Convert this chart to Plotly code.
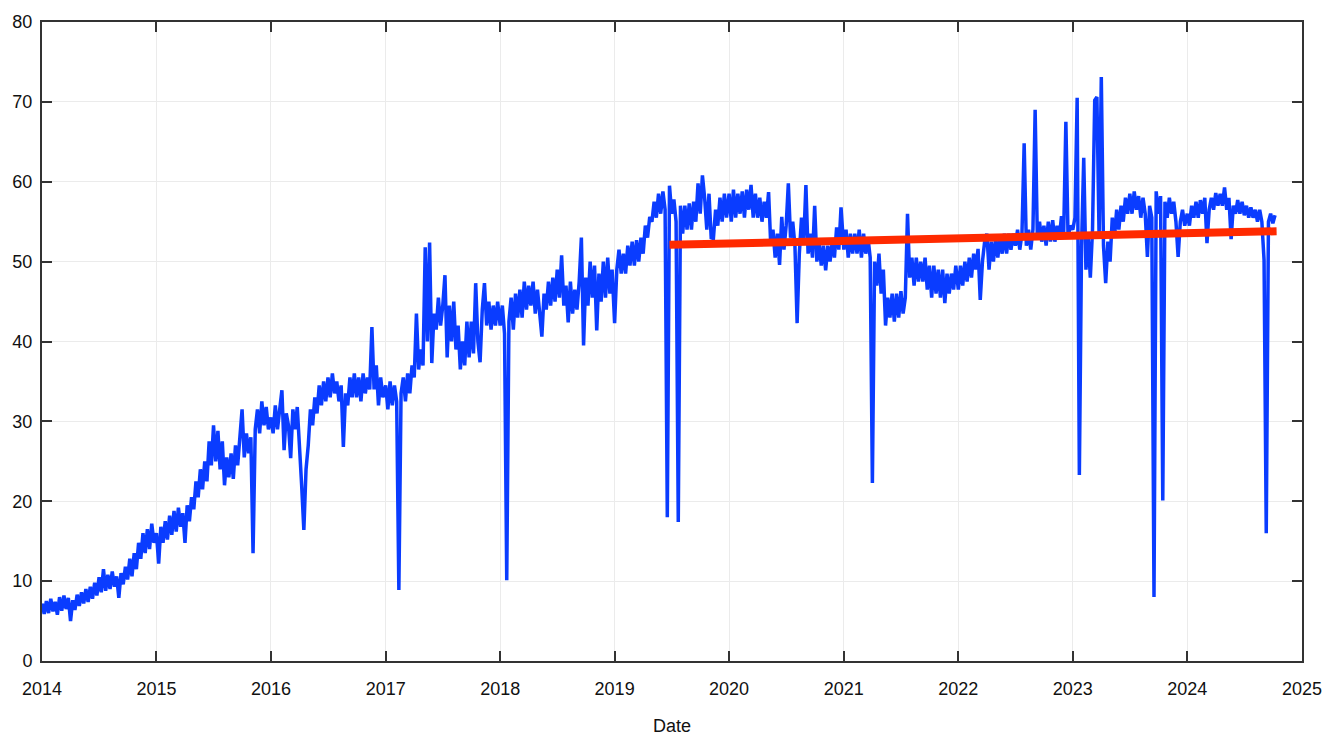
import datetime as dt
import plotly.graph_objects as go

# ---- Weekly readings of the daily series (value at Jan 1 + 7*k days of each year) ----
vals_2014 = [7.2,5.9,7.5,6.0,7.8,6.2,7.4,5.8,8.0, 6.3,8.2,6.5,7.9, 5.0,7.6,6.4,8.3, 6.9,8.6,7.2,9.0,7.4,
             9.3,7.8,9.8,8.2, 10.5,8.6,11.5,8.8,10.8, 9.0,11.2,9.3,10.6, 7.9,11.0,9.6,11.8, 10.2,12.8,10.6,13.5,
             11.5,14.8,12.8,16.0,13.5, 16.5,14.0,17.2,14.8]
vals_2015 = [16.0,12.2,16.8,14.8,17.5, 15.2,18.2,15.8,18.8, 16.2,19.2,16.8,18.5, 14.8,19.5,17.5,20.5,
             19.0,22.5,20.5,24.0,21.5, 25.0,22.5,27.5,24.5, 29.5,25.0,28.8,24.0,27.5, 22.0,25.5,23.0,26.0,
             22.8,27.0,24.5,28.0, 31.5,25.5,28.5,26.0, 28.0,13.5,29.0,31.5,28.5, 32.5,29.5,31.8,29.0]
vals_2016 = [30.5,28.5,32.0,29.0,31.5, 33.9,26.4,31.0,29.5, 25.4,31.5,29.0,31.8, 27.5,22.0,16.4,24.0,
             27.0,31.5,29.5,33.0,31.0, 34.5,32.0,35.0,32.5, 35.5,33.0,36.0,33.5,35.0, 32.5,34.5,26.8,33.5,
             32.0,35.5,33.0,36.0, 33.0,35.5,32.5,36.0, 33.5,35.5,34.0,41.8,34.0, 37.0,32.0,35.5,33.0]
vals_2017 = [34.5,31.5,35.0,32.0,34.5, 32.5,8.9,33.5,35.5, 32.5,36.0,33.5,37.0, 35.5,43.5,36.5,39.0,
             37.0,51.8,40.0,52.4,37.3, 43.5,41.5,45.5,42.0, 44.5,48.3,38.0,44.5,40.0, 45.0,39.0,42.0,36.5,
             40.0,37.0,42.5,38.0, 42.5,38.5,47.3,40.0, 37.4,44.0,47.3,42.0,45.0, 41.5,44.5,42.0,45.0]
vals_2018 = [42.0,44.5,41.0,10.1,42.5, 45.5,41.5,46.0,43.0, 46.5,43.0,47.5,44.0, 47.0,44.5,47.5,43.5,
             46.5,43.0,40.6,46.0,44.0, 47.5,44.5,48.0,45.0, 49.0,45.5,50.8,44.5,47.0, 42.4,47.5,43.5,46.5,
             44.0,47.5,53.0,39.5, 48.0,44.5,50.0,45.5, 49.5,41.4,48.5,45.0,50.0, 45.5,50.5,46.0,49.0]
vals_2019 = [42.3,49.0,51.5,48.5,51.0, 48.5,52.0,49.5,52.5, 49.5,52.7,50.0,53.0, 51.0,54.5,53.0,55.6,
             55.0,57.5,55.5,58.5,56.0, 58.8,56.5,18.0,59.5, 56.0,57.8,55.0,17.4,57.0, 53.5,57.0,54.0,57.3,
             54.0,57.5,55.0,59.8, 56.0,60.8,58.0,54.0, 58.5,53.0,52.9,56.5,54.5, 58.0,55.0,58.5,55.5]
vals_2020 = [58.5,55.0,59.0,55.5,58.5, 56.0,58.8,55.5,59.0, 56.5,59.6,55.5,58.5, 55.5,58.0,55.0,57.5,
             55.5,58.7,52.0,54.0,50.5, 53.5,49.6,55.6,51.5, 54.5,59.8,53.0,55.0,52.0, 42.3,51.0,55.5,52.5,
             59.6,51.0,53.5,50.5, 57.0,50.0,52.5,49.5, 52.0,48.9,52.0,50.0,52.5, 50.5,54.3,51.5,56.8]
vals_2021 = [51.5,54.0,50.5,53.5,51.0, 53.5,51.0,54.0,50.5, 53.5,51.0,53.0,50.5, 22.3,50.0,47.0,51.0,
             46.0,49.0,42.0,45.5,43.0, 46.0,42.5,46.0,43.0, 46.3,43.5,45.5,56.0,48.0, 50.5,47.0,50.5,47.5,
             50.0,47.5,50.5,46.5, 49.5,45.5,49.5,46.0, 49.0,45.5,49.0,44.8,48.5, 46.0,48.5,46.5,49.5]
vals_2022 = [46.5,49.5,47.0,50.0,47.5, 50.5,48.0,51.0,49.0, 51.6,45.2,50.0,52.5, 53.5,49.0,52.5,50.0,
             53.0,50.5,53.0,51.0,53.5, 51.0,53.5,51.5,53.5, 52.0,54.0,51.5,53.5,64.8, 52.0,54.0,51.5,54.0,
             69.0,53.0,55.0,52.5, 54.5,52.0,55.0,52.5, 55.2,52.5,54.5,53.0,55.7, 53.5,67.5,53.0,54.5]
vals_2023 = [54.0,55.5,70.5,23.3,52.0, 63.0,49.0,53.0,48.0, 54.0,70.2,70.6,53.0, 73.1,52.0,47.3,52.5,
             50.0,55.5,53.0,56.5,54.0, 57.0,55.0,58.0,56.0, 58.5,56.0,58.8,56.5,58.2, 55.5,58.0,56.0,50.6,
             57.0,55.5,8.0,58.8, 56.0,58.2,20.1,57.5, 55.5,58.0,56.0,57.5,55.0, 50.6,55.0,56.5,54.5]
vals_2024 = [56.0,54.5,57.0,55.5,57.5, 55.5,57.7,56.0,58.0, 52.3,56.5,58.0,56.5, 58.6,57.0,58.5,57.0,
             59.3,56.5,58.0,52.8,57.0, 56.0,57.7,56.0,57.5, 55.8,57.0,55.5,56.8,55.5, 56.5,55.0,56.5,55.0,
             50.2,16.0,55.0,56.0, 54.8,55.8]

yearly_values = {2014: vals_2014, 2015: vals_2015, 2016: vals_2016, 2017: vals_2017, 2018: vals_2018,
                 2019: vals_2019, 2020: vals_2020, 2021: vals_2021, 2022: vals_2022, 2023: vals_2023,
                 2024: vals_2024}

# Trend line (red)
trend_dates = ["2019-06-25", "2024-10-12"]
trend_values = [52.1, 53.8]

years = list(range(2014, 2026))
year_labels = [str(y) for y in years]

# weekly sample dates within each year
dates, values = [], []
for yr, vals in yearly_values.items():
    start = dt.date(yr, 1, 1)
    for k, v in enumerate(vals):
        dates.append(start + dt.timedelta(days=7 * k))
        values.append(v)

FONT = "Liberation Sans, Arial, Helvetica, sans-serif"
AXIS_COL = "#333333"
GRID_COL = "#ebebeb"
TXT_COL = "#111111"

fig = go.Figure()
fig.add_trace(go.Scatter(x=dates, y=values, mode="lines",
                         line=dict(color="#0a3cff", width=3.5)))
fig.add_trace(go.Scatter(x=trend_dates, y=trend_values, mode="lines",
                         line=dict(color="#ff2a00", width=8)))

axis_common = dict(
    showgrid=True, gridcolor=GRID_COL, gridwidth=1,
    ticks="inside", ticklen=10, tickwidth=2, tickcolor=AXIS_COL,
    showline=True, linecolor=AXIS_COL, linewidth=2, mirror="allticks",
    zeroline=False, automargin=False,
    tickfont=dict(family=FONT, size=18, color=TXT_COL),
)

fig.update_layout(
    width=1336, height=738,
    margin=dict(l=34, r=42, t=14, b=85),
    paper_bgcolor="white", plot_bgcolor="white",
    showlegend=False,
    font=dict(family=FONT, size=18, color=TXT_COL),
    xaxis=dict(type="date", range=["2014-01-01", "2025-01-01"],
               tickvals=[f"{y}-01-01" for y in years], ticktext=year_labels,
               ticklabelstandoff=10,
               title=dict(text="Date", font=dict(family=FONT, size=18, color=TXT_COL), standoff=22),
               **axis_common),
    yaxis=dict(range=[0, 80], dtick=10, tick0=0, ticklabelstandoff=4, **axis_common),
)

fig.write_html("out.html")
